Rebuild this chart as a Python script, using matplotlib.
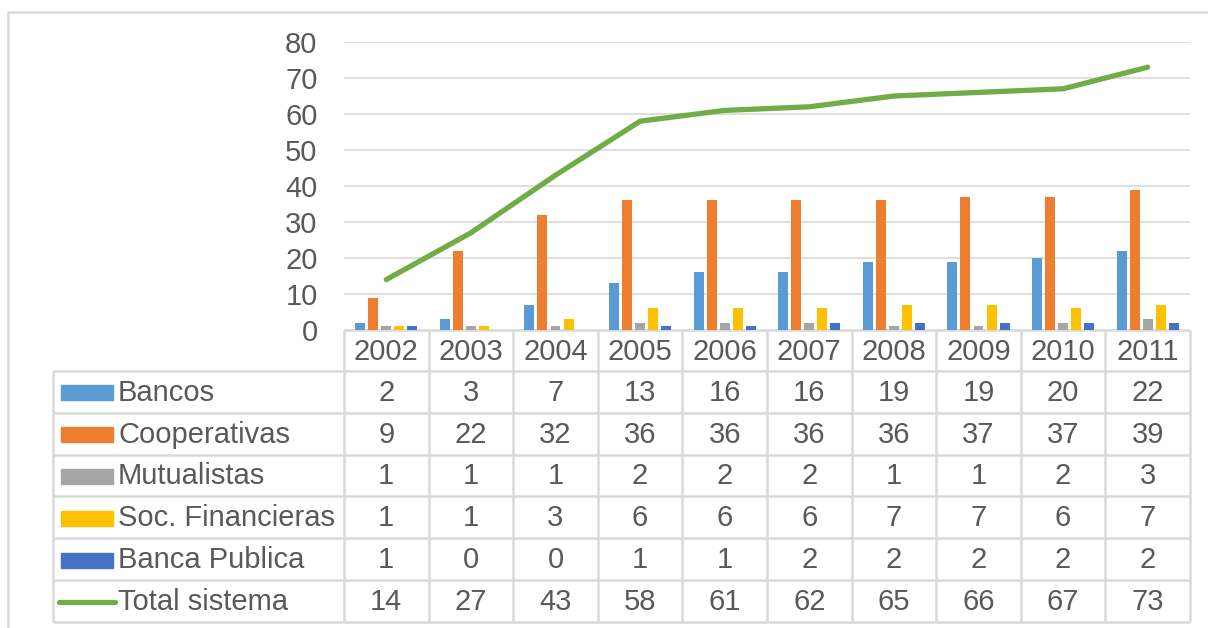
import numpy as np
import matplotlib.pyplot as plt

years = ["2002", "2003", "2004", "2005", "2006", "2007", "2008", "2009", "2010", "2011"]
bancos = [2, 3, 7, 13, 16, 16, 19, 19, 20, 22]
cooperativas = [9, 22, 32, 36, 36, 36, 36, 37, 37, 39]
mutualistas = [1, 1, 1, 2, 2, 2, 1, 1, 2, 3]
soc_financieras = [1, 1, 3, 6, 6, 6, 7, 7, 6, 7]
banca_publica = [1, 0, 0, 1, 1, 2, 2, 2, 2, 2]
total_sistema = [14, 27, 43, 58, 61, 62, 65, 66, 67, 73]

bar_series = [
    ("Bancos", bancos, "#5B9BD5"),
    ("Cooperativas", cooperativas, "#ED7D31"),
    ("Mutualistas", mutualistas, "#A5A5A5"),
    ("Soc. Financieras", soc_financieras, "#FFC000"),
    ("Banca Publica", banca_publica, "#4472C4"),
]
line_name = "Total sistema"
line_color = "#70AD47"

text_color = "#595959"
grid_color = "#D9D9D9"
fs = 21

plt.rcParams["font.family"] = ["Liberation Sans", "DejaVu Sans"]

W, H = 1208, 628
fig = plt.figure(figsize=(W / 100, H / 100), dpi=100)

# plot area in pixels
px0, px1 = 344, 1190
py_top, py_bot = 42, 330
ax = fig.add_axes([px0 / W, 1 - py_bot / H, (px1 - px0) / W, (py_bot - py_top) / H])

n = len(years)
x = np.arange(n) + 0.5
step = 0.154
bw = 0.118
for i, (name, vals, col) in enumerate(bar_series):
    ax.bar(x + (i - 2) * step, vals, width=bw, color=col, zorder=2)
ax.plot(x, total_sistema, color=line_color, lw=3.8, solid_capstyle="round",
        solid_joinstyle="round", zorder=3)

ax.set_xlim(0, n)
ax.set_ylim(0, 80)
ax.set_yticks(range(0, 81, 10))
ax.set_xticks([])
ax.grid(axis="y", color=grid_color, lw=1.2, zorder=0)
for s in ax.spines.values():
    s.set_visible(False)
ax.tick_params(axis="y", length=0, pad=19, labelsize=fs, labelcolor=text_color)

# overlay in pixel coordinates for the data table and frame
ov = fig.add_axes([0, 0, 1, 1], zorder=-1)
ov.set_xlim(0, W)
ov.set_ylim(H, 0)
ov.axis("off")
ov.patch.set_alpha(0)

# outer chart frame
ov.plot([8, 8, W + 5], [H + 5, 12, 12], color=grid_color, lw=1.8)

tab_left = 53
col_w = (px1 - px0) / n
col_edges = [px0 + k * col_w for k in range(n + 1)]
header_top, header_bot = 330, 371
row_h = 41.8
rows = bar_series + [(line_name, total_sistema, line_color)]
row_edges = [header_bot + k * row_h for k in range(len(rows) + 1)]
lc = dict(color=grid_color, lw=1.8, solid_capstyle="butt")

# header row
ov.plot([px0, px1], [header_top, header_top], **lc)
for xe in col_edges:
    ov.plot([xe, xe], [header_top, row_edges[-1]], **lc)
for k, yr in enumerate(years):
    ov.text((col_edges[k] + col_edges[k + 1]) / 2, (header_top + header_bot) / 2 + 1, yr,
            ha="center", va="center", fontsize=fs, color=text_color)

# data rows
for ye in row_edges:
    ov.plot([tab_left, px1], [ye, ye], **lc)
ov.plot([tab_left, tab_left], [header_bot, row_edges[-1]], **lc)
for r, (name, vals, col) in enumerate(rows):
    yc = (row_edges[r] + row_edges[r + 1]) / 2 + 1
    if r < len(bar_series):
        ov.add_patch(plt.Rectangle((61, yc - 7.5), 52, 15, color=col))
    else:
        ov.plot([59, 115], [yc, yc], color=col, lw=3.8, solid_capstyle="round")
    ov.text(118, yc, name, ha="left", va="center", fontsize=fs, color=text_color)
    for k, v in enumerate(vals):
        ov.text((col_edges[k] + col_edges[k + 1]) / 2, yc, str(v),
                ha="center", va="center", fontsize=fs, color=text_color)

fig.savefig("out.png", dpi=100)
